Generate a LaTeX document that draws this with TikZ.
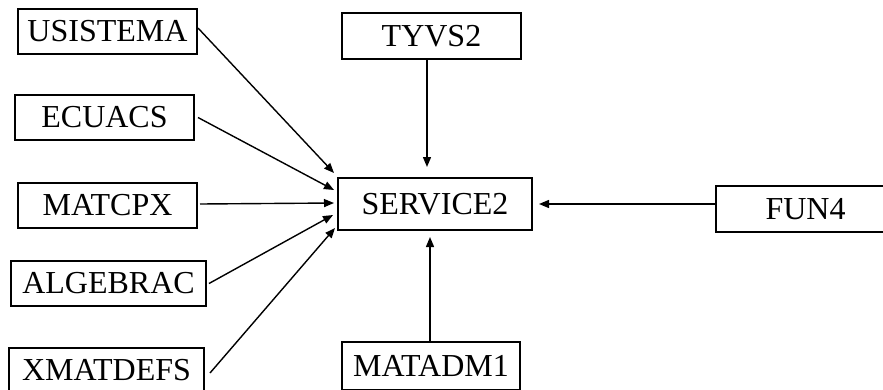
\documentclass[tikz,border=0pt]{standalone}
\usepackage{fontspec}
\setmainfont{Liberation Serif}
\usetikzlibrary{arrows.meta}
\tikzset{
  modbox/.style={draw, line width=2pt, inner sep=0pt, minimum height=45pt,
    font=\fontsize{32}{34}\selectfont},
  dep/.style={line width=1.4pt, -{Triangle[length=10pt,width=8pt]}},
}
\begin{document}
\begin{tikzpicture}[x=1pt,y=-1pt]
  \useasboundingbox (0,0) rectangle (883,389);
  \clip (0,0) rectangle (883,389);
  % modules on the left
  \node[modbox, minimum width=179pt] (usi) at (107.5,31.5) {USISTEMA};
  \node[modbox, minimum width=179pt] (ecu) at (104.5,117.5) {ECUACS};
  \node[modbox, minimum width=179pt] (mat) at (107.5,205.5) {MATCPX};
  \node[modbox, minimum width=195pt] (alg) at (108.5,283.5) {ALGEBRAC};
  \node[modbox, minimum width=195pt] (xmd) at (106.5,370.5) {XMATDEFS};
  % central column
  \node[modbox, minimum width=179pt, minimum height=46pt] (tyv) at (431.5,36) {TYVS2};
  \node[modbox, minimum width=194pt, minimum height=52pt] (srv) at (435,204) {SERVICE2};
  \node[modbox, minimum width=178pt, minimum height=48pt] (adm) at (431,366) {MATADM1};
  % module on the right
  \node[modbox, minimum width=179pt, minimum height=46pt] (fun) at (805.5,209) {FUN4};
  % dependencies
  \draw[dep] ([yshift=3.5pt]usi.east) -- ([xshift=-3pt,yshift=31pt]srv.west);
  \draw[dep] ([xshift=3pt]ecu.east) -- ([xshift=-3pt,yshift=14pt]srv.west);
  \draw[dep] ([xshift=2pt,yshift=1.5pt]mat.east) -- ([xshift=-3pt,yshift=1pt]srv.west);
  \draw[dep] ([xshift=2pt]alg.east) -- ([xshift=-4pt,yshift=-11pt]srv.west);
  \draw[dep] ([xshift=5pt,yshift=-2.5pt]xmd.east) -- ([xshift=-2pt,yshift=-24pt]srv.west);
  \draw[dep] ([xshift=-4.5pt]tyv.south) -- ([xshift=-8pt,yshift=10pt]srv.north);
  \draw[dep] ([xshift=-1pt]adm.north) -- ([xshift=-5pt,yshift=-6pt]srv.south);
  \draw[dep] ([yshift=5pt]fun.west) -- ([xshift=6pt]srv.east);
\end{tikzpicture}
\end{document}
